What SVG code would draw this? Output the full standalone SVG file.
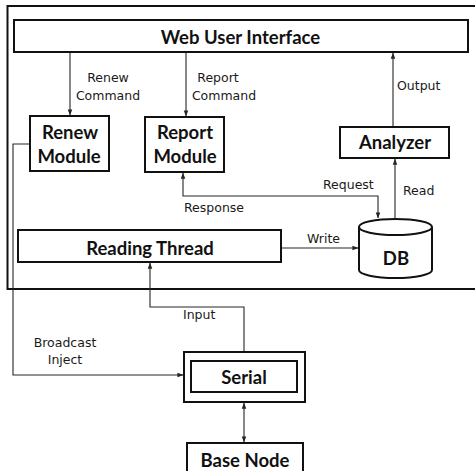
<svg xmlns="http://www.w3.org/2000/svg" width="475" height="471" viewBox="0 0 475 471">
  <defs>
    <style>
      .box { fill: #fff; stroke: #111; stroke-width: 2; }
      .frame { fill: none; stroke: #111; stroke-width: 2; }
      .wire { fill: none; stroke: #262626; stroke-width: 1.1; }
      .node { font-family: Lato, "Open Sans", sans-serif; font-weight: bold; font-size: 18.5px; fill: #111; text-anchor: middle; }
      .lbl { font-family: "DejaVu Sans", sans-serif; font-size: 12.5px; fill: #1a1a1a; }
    </style>
    <marker id="arrow" viewBox="0 0 8 8" refX="7.5" refY="4" markerWidth="6" markerHeight="6" orient="auto-start-reverse" markerUnits="userSpaceOnUse">
      <path d="M0,1 L8,4 L0,7 Z" fill="#262626"/>
    </marker>
  </defs>

  <rect width="475" height="471" fill="#fff"/>

  <!-- host boundary: open on the right -->
  <path class="frame" d="M476,6 H7.5 V289 H476"/>

  <g id="web-ui">
    <rect class="box" x="14" y="20" width="454" height="32"/>
    <text class="node" x="240.5" y="44" font-size="20">Web User Interface</text>
  </g>

  <g id="renew-module">
    <rect class="box" x="30" y="116" width="79" height="55"/>
    <text class="node" x="70" y="139">Renew</text>
    <text class="node" x="69" y="163">Module</text>
  </g>

  <g id="report-module">
    <rect class="box" x="145" y="117" width="79" height="55"/>
    <text class="node" x="185" y="139">Report</text>
    <text class="node" x="185" y="163">Module</text>
  </g>

  <g id="analyzer">
    <rect class="box" x="340" y="127" width="109" height="31"/>
    <text class="node" x="395" y="149">Analyzer</text>
  </g>

  <g id="reading-thread">
    <rect class="box" x="18" y="230" width="263" height="32"/>
    <text class="node" x="150" y="255">Reading Thread</text>
  </g>

  <g id="db">
    <path class="box" d="M359,227 V270 A36.5,8 0 0 0 432,270 V227"/>
    <ellipse class="box" cx="395.5" cy="227" rx="36.5" ry="8"/>
    <text class="node" x="396" y="265" font-size="27">DB</text>
  </g>

  <g id="serial">
    <rect class="box" x="184" y="352" width="121" height="50"/>
    <rect class="box" x="191" y="361" width="106" height="31"/>
    <text class="node" x="244" y="384">Serial</text>
  </g>

  <g id="base-node">
    <rect class="box" x="187" y="443" width="116" height="34"/>
    <text class="node" x="245" y="467">Base Node</text>
  </g>

  <g id="connectors">
    <line class="wire" x1="70" y1="53" x2="70" y2="115" marker-end="url(#arrow)"/>
    <line class="wire" x1="186" y1="53" x2="186" y2="116" marker-end="url(#arrow)"/>
    <line class="wire" x1="393" y1="126" x2="393" y2="53" marker-end="url(#arrow)"/>
    <line class="wire" x1="395" y1="219" x2="395" y2="159" marker-end="url(#arrow)"/>
    <path class="wire" d="M183,173 V196 H378 V218" marker-start="url(#arrow)" marker-end="url(#arrow)"/>
    <line class="wire" x1="282" y1="248" x2="358" y2="248" marker-end="url(#arrow)"/>
    <path class="wire" d="M244,351 V307 H150 V263" marker-end="url(#arrow)"/>
    <path class="wire" d="M29,144 H13 V375 H183" marker-end="url(#arrow)"/>
    <line class="wire" x1="244" y1="403" x2="244" y2="442" marker-start="url(#arrow)" marker-end="url(#arrow)"/>
  </g>

  <g id="labels">
    <text class="lbl" x="108" y="82" text-anchor="middle">Renew</text>
    <text class="lbl" x="108" y="100" text-anchor="middle">Command</text>
    <text class="lbl" x="218" y="82" text-anchor="middle">Report</text>
    <text class="lbl" x="224" y="100" text-anchor="middle">Command</text>
    <text class="lbl" x="397" y="90">Output</text>
    <text class="lbl" x="403" y="195">Read</text>
    <text class="lbl" x="323" y="189">Request</text>
    <text class="lbl" x="184" y="212">Response</text>
    <text class="lbl" x="307" y="243">Write</text>
    <text class="lbl" x="183" y="319">Input</text>
    <text class="lbl" x="65" y="347" text-anchor="middle">Broadcast</text>
    <text class="lbl" x="65" y="364" text-anchor="middle">Inject</text>
  </g>
</svg>
